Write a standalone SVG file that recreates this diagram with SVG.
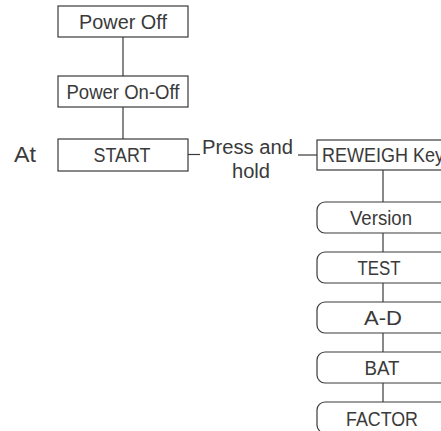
<svg xmlns="http://www.w3.org/2000/svg" width="441" height="431" viewBox="0 0 441 431">
<style>
.box{fill:#fff;stroke:#3a3a3a;stroke-width:1.2}
.ln{fill:none;stroke:#3a3a3a;stroke-width:1.2}
text{font-family:"Liberation Sans",Arial,sans-serif;font-size:20px;fill:#3a3a3a}
.c{text-anchor:middle}
</style>
<rect width="441" height="431" fill="#fff"/>
<g id="connectors">
<line class="ln" x1="123" y1="37" x2="123" y2="76"/>
<line class="ln" x1="123" y1="107" x2="123" y2="139"/>
<line class="ln" x1="188" y1="154.5" x2="200" y2="154.5"/>
<line class="ln" x1="298" y1="155" x2="317" y2="155"/>
<line class="ln" x1="383" y1="170" x2="383" y2="202"/>
<line class="ln" x1="383" y1="233" x2="383" y2="252"/>
<line class="ln" x1="383" y1="283" x2="383" y2="302"/>
<line class="ln" x1="383" y1="333" x2="383" y2="352"/>
<line class="ln" x1="383" y1="383" x2="383" y2="402"/>
</g>
<g id="power-off">
<rect class="box" x="58" y="6" width="130" height="31"/>
<text class="c" x="123" y="29" textLength="88" lengthAdjust="spacingAndGlyphs">Power Off</text>
</g>
<g id="power-on-off">
<rect class="box" x="58" y="76" width="130" height="31"/>
<text class="c" x="123" y="99" textLength="113" lengthAdjust="spacingAndGlyphs">Power On-Off</text>
</g>
<g id="start">
<rect class="box" x="58" y="139" width="130" height="32"/>
<text class="c" x="122" y="162" textLength="57" lengthAdjust="spacingAndGlyphs">START</text>
</g>
<g id="at-label">
<text x="14" y="162" style="font-size:22px" textLength="22" lengthAdjust="spacingAndGlyphs">At</text>
</g>
<g id="press-label">
<text x="202" y="154" textLength="91" lengthAdjust="spacingAndGlyphs">Press and</text>
<text x="232" y="178" textLength="38" lengthAdjust="spacingAndGlyphs">hold</text>
</g>
<g id="reweigh">
<rect class="box" x="317" y="140" width="132" height="30"/>
<text x="322" y="162" textLength="122" lengthAdjust="spacingAndGlyphs">REWEIGH Key</text>
</g>
<g id="version">
<rect class="box" x="317" y="202" width="132" height="31" rx="8"/>
<text class="c" x="381" y="225" textLength="62" lengthAdjust="spacingAndGlyphs">Version</text>
</g>
<g id="test">
<rect class="box" x="317" y="252" width="132" height="31" rx="8"/>
<text class="c" x="379" y="275" textLength="43" lengthAdjust="spacingAndGlyphs">TEST</text>
</g>
<g id="a-d">
<rect class="box" x="317" y="302" width="132" height="31" rx="8"/>
<text class="c" x="383" y="325" textLength="38" lengthAdjust="spacingAndGlyphs">A-D</text>
</g>
<g id="bat">
<rect class="box" x="317" y="352" width="132" height="31" rx="8"/>
<text class="c" x="382" y="375" textLength="35" lengthAdjust="spacingAndGlyphs">BAT</text>
</g>
<g id="factor">
<rect class="box" x="317" y="402" width="132" height="31" rx="8"/>
<text class="c" x="382" y="426" textLength="72" lengthAdjust="spacingAndGlyphs">FACTOR</text>
</g>
</svg>
